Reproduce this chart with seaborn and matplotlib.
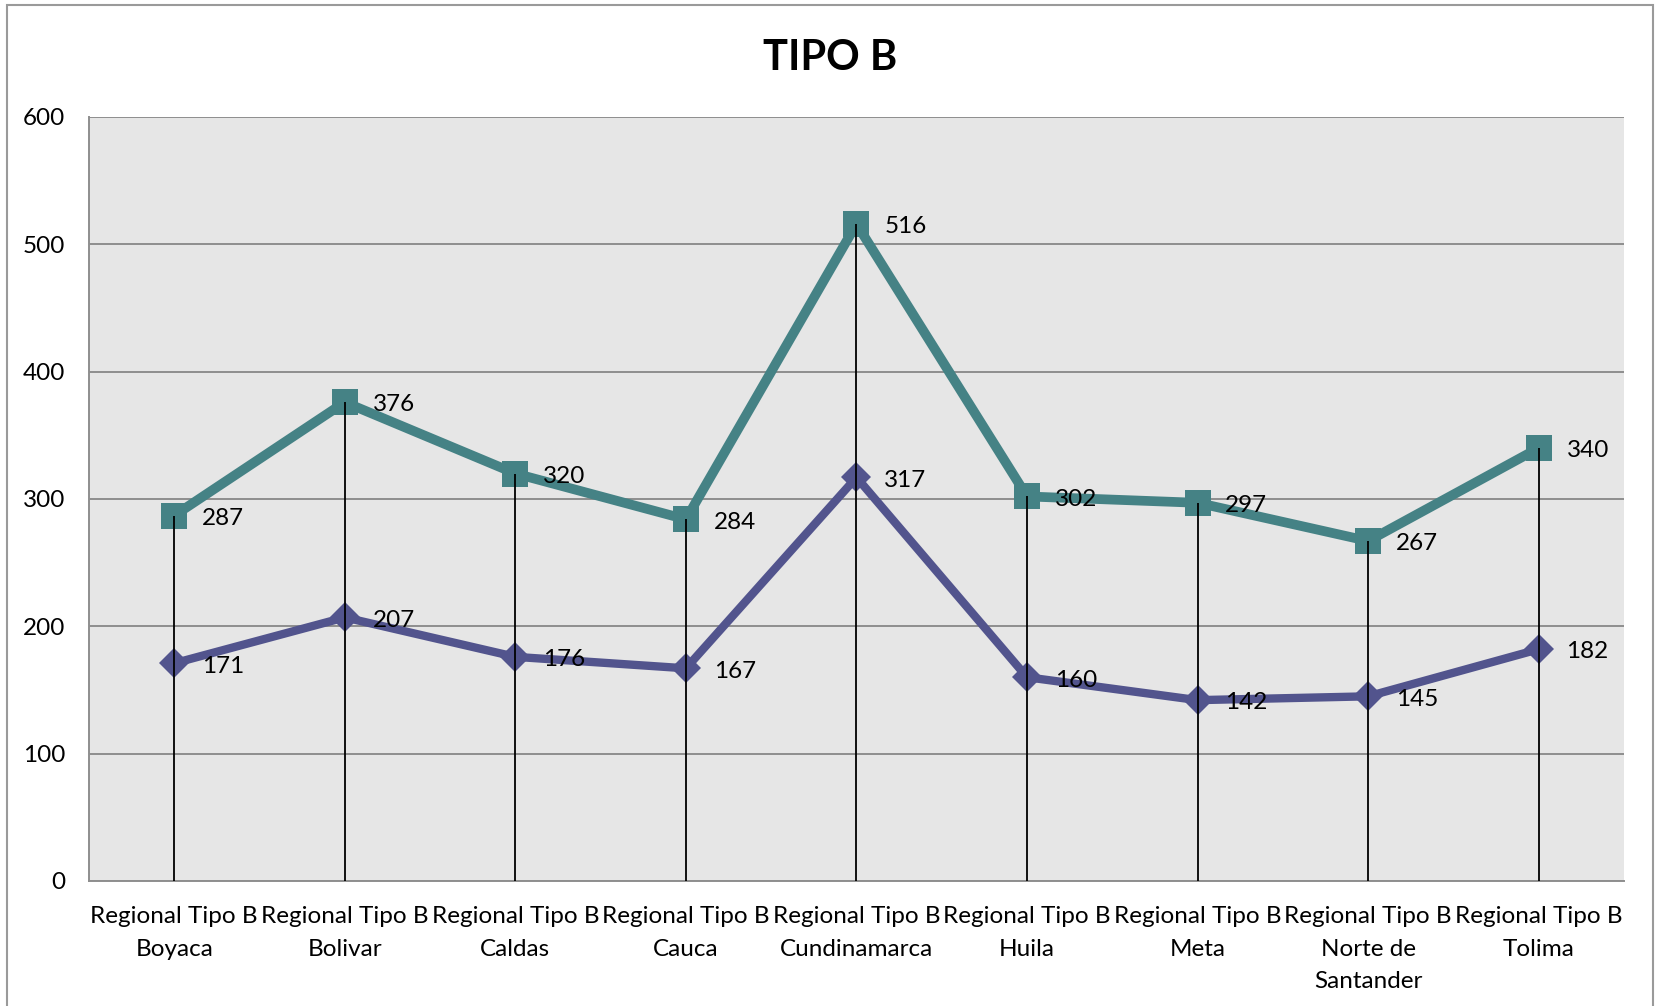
import numpy as np
import pandas as pd
import matplotlib
matplotlib.use("Agg")
import matplotlib.pyplot as plt
import seaborn as sns
from matplotlib.patches import Rectangle

categories = ["Regional Tipo B\nBoyaca", "Regional Tipo B\nBolivar", "Regional Tipo B\nCaldas",
              "Regional Tipo B\nCauca", "Regional Tipo B\nCundinamarca", "Regional Tipo B\nHuila",
              "Regional Tipo B\nMeta", "Regional Tipo B\nNorte de\nSantander", "Regional Tipo B\nTolima"]
serie_alta = [287, 376, 320, 284, 516, 302, 297, 267, 340]
serie_baja = [171, 207, 176, 167, 317, 160, 142, 145, 182]
title = "TIPO B"
yticks = [0, 100, 200, 300, 400, 500, 600]

sns.set_theme(style="white")
plt.rcParams['font.family'] = ['Lato', 'DejaVu Sans']
plt.rcParams['text.color'] = 'black'
plt.rcParams['xtick.color'] = 'black'
plt.rcParams['ytick.color'] = 'black'

fig = plt.figure(figsize=(16.6, 10.06), dpi=100)
ax = fig.add_axes([0.0536, 0.1243, 0.9783 - 0.0536, 0.8837 - 0.1243])
ax.set_facecolor("#e6e6e6")

pos = np.arange(len(categories))
df = pd.DataFrame({"pos": pos, "alta": serie_alta, "baja": serie_baja})

teal = "#458285"
purple = "#52548d"

sns.lineplot(data=df, x="pos", y="alta", ax=ax, color=teal, linewidth=7,
             marker="s", markersize=18.5, markeredgewidth=0, zorder=3)
sns.lineplot(data=df, x="pos", y="baja", ax=ax, color=purple, linewidth=6,
             marker="D", markersize=15, markeredgewidth=0, zorder=3)

tops = np.maximum(serie_alta, serie_baja)
ax.vlines(pos, 0, tops, colors="black", linewidth=1.3, zorder=4)

for x, v in zip(pos, serie_alta):
    ax.annotate(str(v), (x, v), xytext=(20, -2), textcoords="offset points",
                ha="left", va="center", fontsize=17.5, color="black", zorder=5)
for x, v in zip(pos, serie_baja):
    ax.annotate(str(v), (x, v), xytext=(20, -2), textcoords="offset points",
                ha="left", va="center", fontsize=17.5, color="black", zorder=5)

ax.set_xlim(-0.5, len(categories) - 0.5)
ax.set_ylim(0, 600)
ax.set_yticks(yticks)
ax.set_yticklabels([str(t) for t in yticks], fontsize=17.5)
ax.set_xticks(pos)
ax.set_xticklabels(categories, fontsize=17.5, linespacing=1.68)
ax.tick_params(axis="y", length=0, pad=17)
ax.tick_params(axis="x", length=0, pad=18)
ax.set_xlabel("")
ax.set_ylabel("")
ax.yaxis.grid(True, color="#8e8e8e", linewidth=1.4)
ax.set_axisbelow(True)
for s in ["top", "right"]:
    ax.spines[s].set_visible(False)
for s in ["left", "bottom"]:
    ax.spines[s].set_visible(True)
    ax.spines[s].set_color("#8e8e8e")
    ax.spines[s].set_linewidth(1.4)

fig.text(0.5, 1 - 58 / 1006, title, ha="center", va="center", fontsize=30,
         fontweight="bold", color="black")

fig.patches.append(Rectangle((7 / 1660, -0.05), (1653 - 7) / 1660, 1.05 - 5 / 1006,
                             transform=fig.transFigure, fill=False, edgecolor="#9a9a9a",
                             linewidth=1.5))

fig.savefig("out.png", dpi=100)
